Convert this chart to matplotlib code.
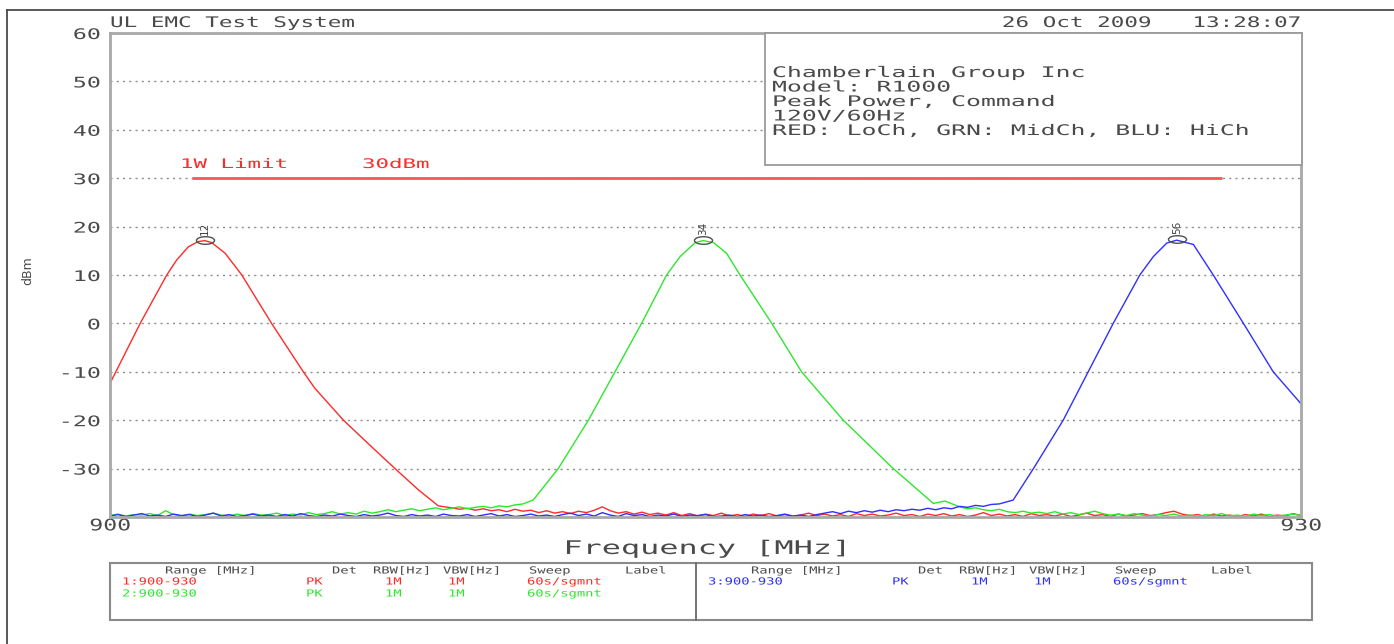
import numpy as np
import matplotlib
matplotlib.use("Agg")
import matplotlib.pyplot as plt
from matplotlib.patheffects import AbstractPathEffect
from matplotlib.transforms import Affine2D
from matplotlib.path import Path
from matplotlib.patches import Rectangle
from matplotlib.lines import Line2D

# ---- data ----
f_start, f_stop = 900.0, 930.0
limit_dbm = 30
limit_f = [902.06, 928.01]
sweep_step = 0.2   # MHz between noise floor readings

# red = low channel
red_peak_f = [900.0, 900.76, 901.43, 901.68, 901.97, 902.22, 902.39, 902.56, 902.90,
              903.32, 904.07, 904.87, 905.16, 905.88, 906.59, 907.18, 907.77, 908.27]
red_peak_db = [-12.4, 0.0, 10.0, 13.1, 15.8, 16.9, 17.1, 16.7, 14.5,
               10.0, 0.0, -10.0, -13.4, -20.0, -25.5, -30.0, -34.4, -37.7]
red_floor_start = 908.6
red_floor = [-38.1, -38.4, -38.2, -38.6, -38.3, -38.7, -38.5, -38.9, -38.4, -38.8,
             -38.6, -39.1, -38.7, -39.2, -38.9, -39.3, -38.8, -39.1, -38.6, -37.9,
             -38.7, -39.2, -38.9, -39.4, -39.0, -39.5, -39.2, -39.6, -39.1, -39.7,
             -39.3, -39.8, -39.4, -39.7, -39.2, -39.8, -39.5, -39.9, -39.4, -39.7,
             -39.3, -39.8, -39.5, -39.9, -39.6, -39.2, -39.7, -39.4, -39.8, -39.5,
             -39.9, -39.3, -39.7, -39.4, -39.8, -39.6, -39.2, -39.7, -39.5, -39.9,
             -39.4, -39.7, -39.3, -39.8, -39.5, -39.9, -39.6, -39.1, -39.7, -39.4,
             -39.8, -39.5, -39.9, -39.3, -39.7, -39.5, -39.8, -39.4, -39.9, -39.6,
             -39.2, -39.7, -39.5, -39.9, -39.4, -39.8, -39.6, -39.3, -39.7, -39.5,
             -39.1, -38.8, -39.4, -39.7, -39.5, -39.9, -39.4, -39.8, -39.6, -39.9,
             -39.5, -39.8, -39.4, -39.9, -39.6, -39.8, -39.3, -39.7]

# green = mid channel
green_floor_l_start = 900.0
green_floor_l = [-39.7, -39.4, -39.8, -39.5, -39.6, -39.3, -39.7, -38.7, -39.5, -39.8,
                 -39.4, -39.7, -39.5, -39.2, -39.6, -39.8, -39.4, -39.7, -39.3, -39.6,
                 -39.5, -39.2, -39.7, -39.4, -39.6, -39.1, -39.5, -39.3, -38.9, -39.4,
                 -39.1, -39.4, -38.8, -39.2, -38.9, -38.5, -38.9, -38.6, -38.3, -38.7,
                 -38.4, -38.1, -38.5, -38.2, -37.9, -38.3, -38.0, -37.8, -38.1, -37.7,
                 -37.9, -37.5, -37.3]
green_peak_f = [910.66, 911.29, 912.05, 912.72, 913.39, 914.02, 914.36, 914.74, 914.94,
                915.20, 915.53, 915.87, 916.67, 917.42, 918.47, 919.73, 920.74, 921.03]
green_peak_db = [-36.5, -30.0, -20.0, -10.0, 0.0, 10.0, 13.8, 16.7, 17.1,
                 16.7, 14.5, 10.0, 0.0, -10.0, -20.0, -30.0, -37.2, -36.7]
green_floor_r_start = 921.4
green_floor_r = [-37.9, -38.3, -38.1, -38.5, -38.7, -38.4, -38.9, -39.1, -38.8, -39.2,
                 -39.0, -39.3, -38.9, -39.4, -39.1, -39.5, -39.2, -38.8, -39.3, -39.6,
                 -39.4, -39.7, -39.3, -39.6, -39.8, -39.5, -39.7, -39.4, -39.8, -39.6,
                 -39.9, -39.5, -39.7, -39.3, -39.8, -39.6, -39.9, -39.4, -39.7, -39.5,
                 -39.8, -39.6, -39.4, -39.7]

# blue = high channel
blue_floor_start = 900.0
blue_floor = [-39.8, -39.5, -39.9, -39.6, -39.3, -39.8, -39.6, -39.9, -39.4, -39.7,
              -39.5, -39.9, -39.6, -39.2, -39.8, -39.5, -39.9, -39.7, -39.4, -39.8,
              -39.6, -39.9, -39.5, -39.8, -39.3, -39.7, -39.9, -39.6, -39.8, -39.4,
              -39.7, -39.9, -39.5, -39.8, -39.6, -39.2, -39.7, -39.9, -39.5, -39.8,
              -39.6, -39.9, -39.4, -39.7, -39.8, -39.5, -39.9, -39.6, -39.3, -39.8,
              -39.5, -39.9, -39.7, -39.4, -39.8, -39.6, -39.9, -39.5, -39.2, -39.7,
              -39.4, -39.8, -39.1, -39.6, -39.9, -39.3, -39.7, -39.5, -39.9, -39.6,
              -39.8, -39.4, -39.9, -39.6, -39.7, -39.5, -39.9, -39.8, -39.6, -39.9,
              -39.5, -39.8, -39.6, -39.9, -39.7, -39.4, -39.8, -39.6, -39.9, -39.5,
              -39.2, -38.9, -39.3, -38.8, -39.1, -38.7, -39.0, -38.6, -38.9, -38.5,
              -38.7, -38.4, -38.6, -38.2, -38.5, -38.1, -38.3, -37.8, -38.0, -37.6,
              -37.8, -37.4, -37.3]
blue_peak_f = [922.75, 923.26, 924.01, 924.64, 925.27, 925.94, 926.28, 926.62, 926.87,
               927.29, 927.79, 928.55, 929.30, 930.0]
blue_peak_db = [-36.5, -30.0, -20.0, -10.0, 0.0, 10.0, 13.8, 16.6, 17.2,
                16.3, 10.0, 0.0, -10.0, -16.6]

marker_labels = ["12", "34", "56"]
header_left = "UL EMC Test System"
header_right = "26 Oct 2009   13:28:07"
info_lines = ["Chamberlain Group Inc", "Model: R1000", "Peak Power, Command",
              "120V/60Hz", "RED: LoCh, GRN: MidCh, BLU: HiCh"]
table_head = ["Range [MHz]", "Det", "RBW[Hz]", "VBW[Hz]", "Sweep", "Label"]
table_rows = [["1:900-930", "PK", "1M", "1M", "60s/sgmnt"],
              ["2:900-930", "PK", "1M", "1M", "60s/sgmnt"],
              ["3:900-930", "PK", "1M", "1M", "60s/sgmnt"]]


def floor_f(start, levels):
    return start + sweep_step * np.arange(len(levels))


red_f = np.concatenate([red_peak_f, floor_f(red_floor_start, red_floor)])
red_db = np.concatenate([red_peak_db, red_floor])
green_f = np.concatenate([floor_f(green_floor_l_start, green_floor_l), green_peak_f,
                          floor_f(green_floor_r_start, green_floor_r)])
green_db = np.concatenate([green_floor_l, green_peak_db, green_floor_r])
blue_f = np.concatenate([floor_f(blue_floor_start, blue_floor), blue_peak_f])
blue_db = np.concatenate([blue_floor, blue_peak_db])

RED, GRN, BLU = "#ff2a2a", "#2ee62e", "#2f2fff"
TXT = "#4a4a4a"


class Widen(AbstractPathEffect):
    # plotter font is much wider than DejaVu Sans Mono, so stretch the glyphs
    def __init__(self, sx=1.5, anchor="left"):
        super().__init__()
        self.sx = sx
        self.anchor = anchor

    def draw_path(self, renderer, gc, tpath, affine, rgbFace=None):
        v = tpath.vertices
        xmax = v[:, 0].max() if len(v) else 0.0
        x0 = {"left": 0.0, "center": xmax / 2.0, "right": xmax}[self.anchor]
        t = Affine2D().translate(-x0, 0).scale(self.sx, 1).translate(x0, 0)
        renderer.draw_path(gc, tpath, t + affine, rgbFace)


plt.rcParams["font.family"] = "DejaVu Sans Mono"

W, H = 1394, 644
fig = plt.figure(figsize=(W / 100, H / 100), dpi=100)
pix = Affine2D().scale(1.0 / W, -1.0 / H).translate(0, 1) + fig.transFigure


def ptext(x, y, s, size, sx, color=TXT, ha="left"):
    fig.text(x, y, s, transform=pix, fontsize=size, color=color, ha=ha, va="baseline",
             path_effects=[Widen(sx, ha)])


# outer frame
fig.add_artist(Line2D([7, W], [10, 10], transform=pix, color="#4a4a4a", lw=1.3))
fig.add_artist(Line2D([7, 7], [10, H], transform=pix, color="#4a4a4a", lw=1.3))

ax = fig.add_axes([110 / W, 1 - 517 / H, 1191 / W, 484 / H])
ax.set_xlim(f_start, f_stop)
ax.set_ylim(-40, 60)

ax.plot(red_f, red_db, color=RED, lw=1.0, zorder=2)
ax.plot(green_f, green_db, color=GRN, lw=1.0, zorder=2.1)
ax.plot(blue_f, blue_db, color=BLU, lw=1.0, zorder=2.2)

ax.hlines(limit_dbm, limit_f[0], limit_f[1], color="#ff5555", lw=2, zorder=2.5)

# peak markers
circ = Path.unit_circle()
ell = Path(circ.vertices * [1.0, 0.42], circ.codes)
for f, d, lab in zip([red_f, green_f, blue_f], [red_db, green_db, blue_db], marker_labels):
    i = int(np.argmax(d))
    ax.plot(f[i], d[i] + 0.2, marker=ell, ms=13, mfc="none", mec="#505050", mew=1.0, zorder=4)
    ax.text(f[i], d[i] + 1.2, lab, rotation=90, ha="center", va="bottom", fontsize=7.5,
            family="DejaVu Sans", color="#404040", zorder=4)

# axes styling
for sp in ax.spines.values():
    sp.set_color("#a8a8a8")
    sp.set_linewidth(2)
ax.set_yticks(np.arange(-30, 61, 10))
ylabs = ax.set_yticklabels([str(v) for v in range(-30, 61, 10)])
for t in ylabs:
    t.set_path_effects([Widen(1.6, "right")])
ax.set_xticks([f_start, f_stop])
xlabs = ax.set_xticklabels(["%d" % f_start, "%d" % f_stop])
for t in xlabs:
    t.set_path_effects([Widen(1.45, "center")])
ax.tick_params(axis="y", length=0, pad=7, labelsize=10.5, labelcolor=TXT)
ax.tick_params(axis="x", length=0, pad=1, labelsize=11.5, labelcolor=TXT)
ax.grid(axis="y", color="#8c8c8c", linestyle=(0, (1.5, 3)), lw=1.0, zorder=0.5)

xl = ax.set_xlabel("Frequency [MHz]", fontsize=13.5, color=TXT, labelpad=4)
xl.set_path_effects([Widen(1.7, "center")])
ax.set_ylabel("dBm", fontsize=9, family="DejaVu Sans", color=TXT)
ax.yaxis.set_label_coords(-0.064, 0.51)

# header
ptext(110, 27, header_left, 10.5, 1.55)
ptext(1300, 27, header_right, 10.5, 1.55, ha="right")

# info box
ax.add_patch(Rectangle((0.55, 0.727), 0.451, 0.273, transform=ax.transAxes,
                       facecolor="white", edgecolor="#9a9a9a", lw=1.3, zorder=3, clip_on=False))
for k, line in enumerate(info_lines):
    ptext(772, 77 + 14.5 * k, line, 10.5, 1.7)

# limit label
ptext(180, 168, "1W Limit", 9.5, 1.7, color=RED)
ptext(362, 168, "%ddBm" % limit_dbm, 9.5, 1.7, color=RED)

# trace table
fig.add_artist(Rectangle((110, 563), 1202, 57, transform=pix, facecolor="none",
                         edgecolor="#8a8a8a", lw=1.5))
fig.add_artist(Line2D([696, 696], [563, 620], transform=pix, color="#6a6a6a", lw=1.3))
head_x = [165, 332, 373, 443, 529, 625]
row_x = [122, 306, 385, 448, 527]
for off in [0, 586]:
    for hx, h in zip(head_x, table_head):
        ptext(hx + off, 573.5, h, 7, 1.42)
for (off, y, col), row in zip([(0, 584.5, RED), (0, 596.5, GRN), (586, 584.5, BLU)], table_rows):
    for rx, s in zip(row_x, row):
        ptext(rx + off, y, s, 7, 1.42, color=col)

fig.savefig("out.png", dpi=100)
